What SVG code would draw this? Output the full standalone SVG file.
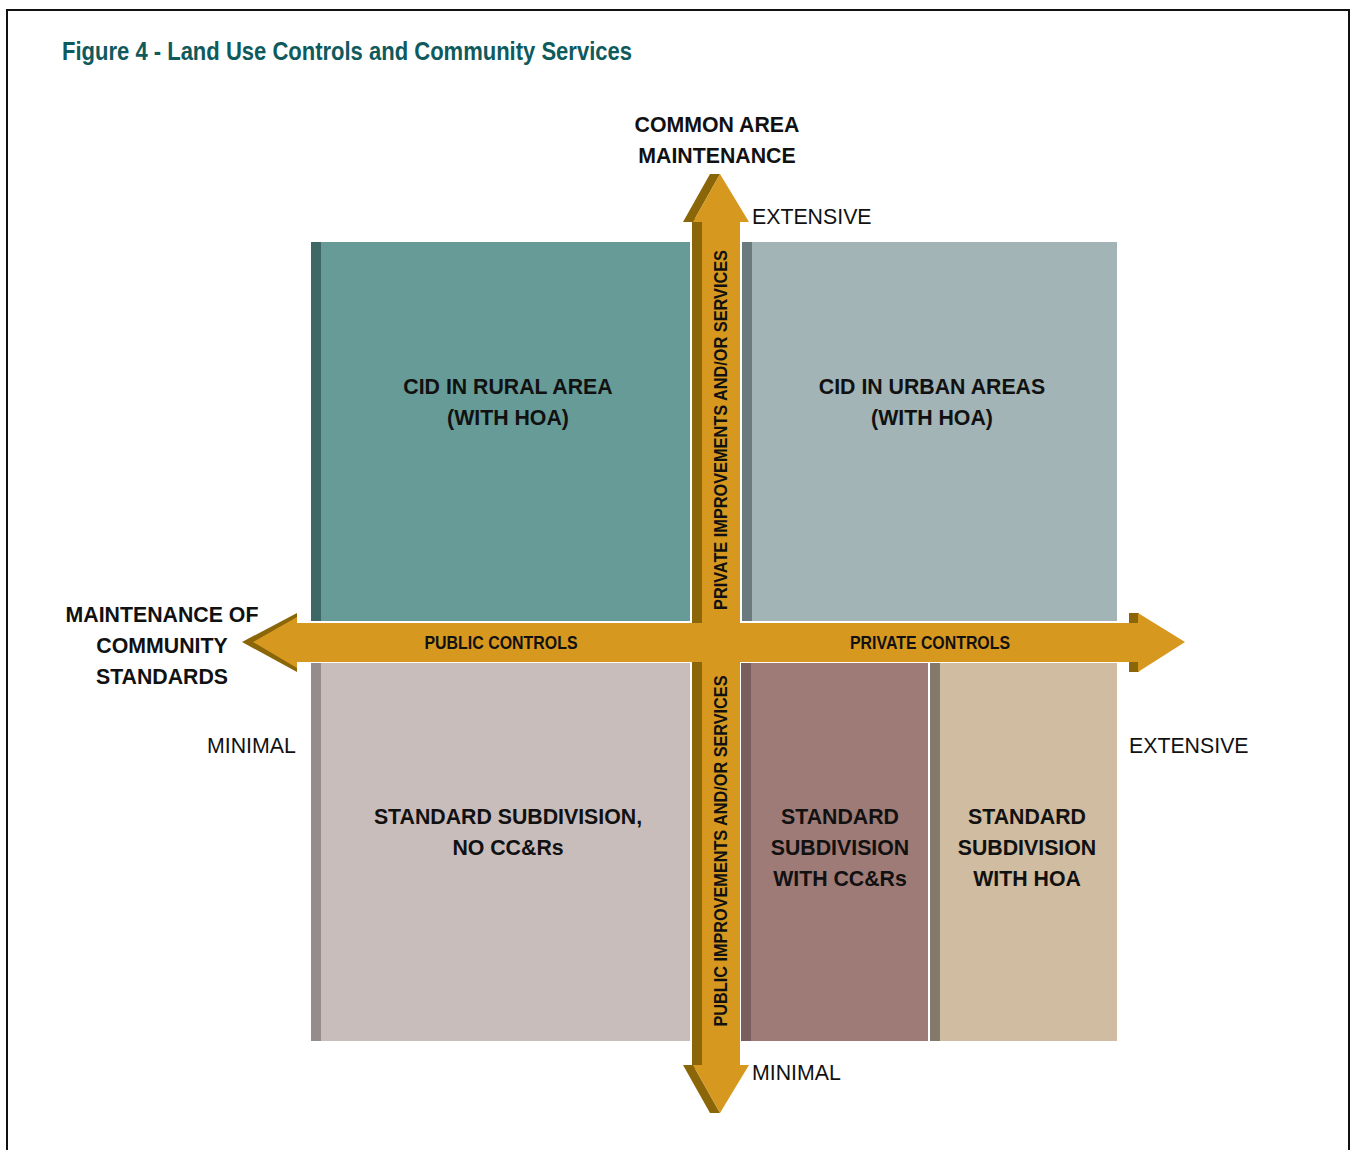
<svg xmlns="http://www.w3.org/2000/svg" width="1351" height="1150" viewBox="0 0 1351 1150">
<style>
.t{font-family:"Liberation Sans",Arial,sans-serif;font-size:21.3px;fill:#111;}
.b{font-weight:bold;}
.c{text-anchor:middle;}
.n{font-family:"Liberation Sans",Arial,sans-serif;font-size:19px;font-weight:bold;fill:#111;text-anchor:middle;}
.lt{fill:#d6981f;}
.dk{fill:#8a6609;}
</style>
<rect x="0" y="0" width="1351" height="1150" fill="#fff"/>
<path d="M7,1150 V10 H1349 V1150" fill="none" stroke="#111" stroke-width="2"/>
<text x="62" y="60" font-family="Liberation Sans,Arial,sans-serif" font-weight="bold" font-size="25" fill="#0f5a5c" textLength="570" lengthAdjust="spacingAndGlyphs">Figure 4 - Land Use Controls and Community Services</text>

<g id="box-rural">
<rect x="311" y="242" width="379" height="379" fill="#669b97"/>
<rect x="311" y="242" width="10" height="379" fill="#3e6866"/>
<text class="t b c" x="508" y="394">CID IN RURAL AREA</text>
<text class="t b c" x="508" y="425">(WITH HOA)</text>
</g>
<g id="box-urban">
<rect x="742" y="242" width="375" height="379" fill="#a2b4b5"/>
<rect x="742" y="242" width="10" height="379" fill="#6b7a7d"/>
<text class="t b c" x="932" y="394">CID IN URBAN AREAS</text>
<text class="t b c" x="932" y="425">(WITH HOA)</text>
</g>
<g id="box-std">
<rect x="311" y="663" width="379" height="378" fill="#c9bdbb"/>
<rect x="311" y="663" width="10" height="378" fill="#958d8d"/>
<text class="t b c" x="508" y="824">STANDARD SUBDIVISION,</text>
<text class="t b c" x="508" y="855">NO CC&amp;Rs</text>
</g>
<g id="box-ccr">
<rect x="741" y="663" width="187" height="378" fill="#9f7b77"/>
<rect x="741" y="663" width="10" height="378" fill="#7a5d5d"/>
<text class="t b c" x="840" y="824">STANDARD</text>
<text class="t b c" x="840" y="855">SUBDIVISION</text>
<text class="t b c" x="840" y="886">WITH CC&amp;Rs</text>
</g>
<g id="box-hoa">
<rect x="930" y="663" width="187" height="378" fill="#d0bca0"/>
<rect x="930" y="663" width="10" height="378" fill="#847a6c"/>
<text class="t b c" x="1027" y="824">STANDARD</text>
<text class="t b c" x="1027" y="855">SUBDIVISION</text>
<text class="t b c" x="1027" y="886">WITH HOA</text>
</g>

<g id="connectors">
<rect class="dk" x="692" y="218" width="10" height="851"/>
<rect class="lt" x="702" y="218" width="38" height="851"/>
<polygon class="dk" points="683,222 710,174 720,174 693,222"/>
<polygon class="lt" points="693,222 720,174 749,222"/>
<polygon class="dk" points="683,1065 693,1065 720,1113 710,1113"/>
<polygon class="lt" points="693,1065 749,1065 720,1113"/>
<rect class="lt" x="294" y="623" width="844" height="39"/>
<polygon class="dk" points="297,613 242,642 297,672"/>
<polygon class="lt" points="297,617 253,642 297,668"/>
<rect class="dk" x="1129" y="613" width="10" height="10"/>
<rect class="dk" x="1129" y="662" width="10" height="10"/>
<polygon class="lt" points="1138,613 1185,642 1138,672"/>
<text class="n" x="501" y="649" textLength="153" lengthAdjust="spacingAndGlyphs">PUBLIC CONTROLS</text>
<text class="n" x="930" y="649" textLength="160" lengthAdjust="spacingAndGlyphs">PRIVATE CONTROLS</text>
<text class="n" transform="translate(727,430) rotate(-90)" textLength="360" lengthAdjust="spacingAndGlyphs">PRIVATE IMPROVEMENTS AND/OR SERVICES</text>
<text class="n" transform="translate(727,851) rotate(-90)" textLength="351" lengthAdjust="spacingAndGlyphs">PUBLIC IMPROVEMENTS AND/OR SERVICES</text>
</g>

<g id="axis-labels">
<text class="t b c" x="717" y="132">COMMON AREA</text>
<text class="t b c" x="717" y="163">MAINTENANCE</text>
<text class="t" x="752" y="224">EXTENSIVE</text>
<text class="t" x="752" y="1080">MINIMAL</text>
<text class="t b c" x="162" y="622">MAINTENANCE OF</text>
<text class="t b c" x="162" y="653">COMMUNITY</text>
<text class="t b c" x="162" y="684">STANDARDS</text>
<text class="t" x="207" y="753">MINIMAL</text>
<text class="t" x="1129" y="753">EXTENSIVE</text>
</g>
</svg>
